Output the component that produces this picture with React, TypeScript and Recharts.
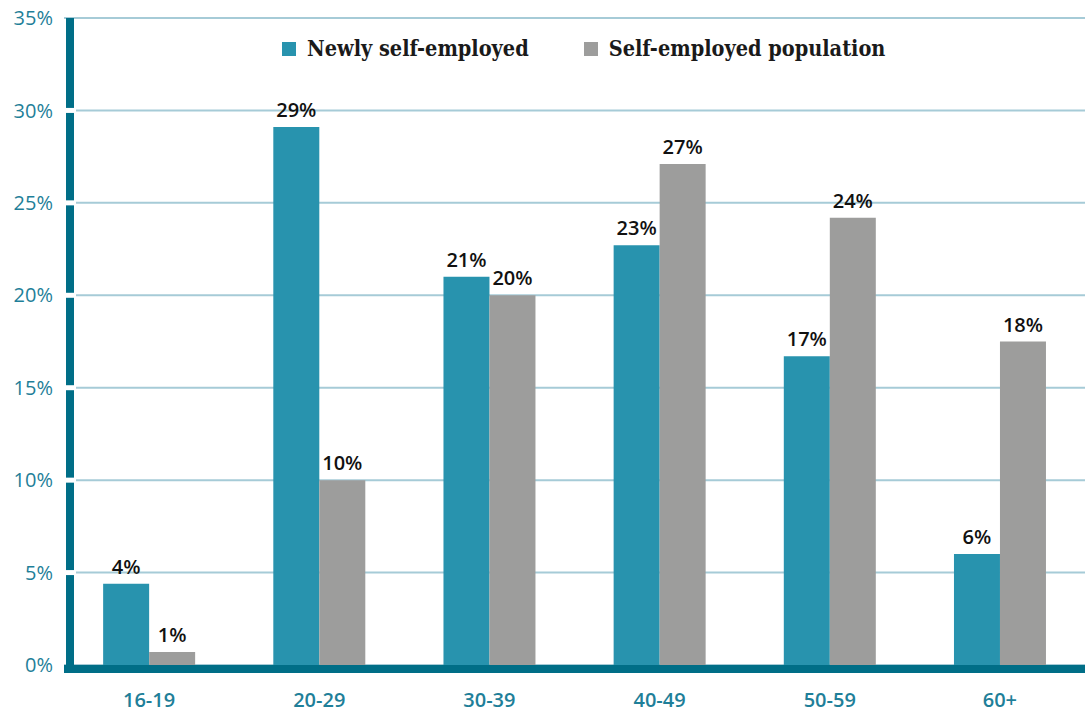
import { BarChart, Bar, XAxis, YAxis, CartesianGrid, Legend, LabelList } from "recharts"

const categories = ["16-19", "20-29", "30-39", "40-49", "50-59", "60+"]
const newlySelfEmployed = [4.4, 29.1, 21.0, 22.7, 16.7, 6.0]
const selfEmployedPopulation = [0.7, 10.0, 20.0, 27.1, 24.2, 17.5]
const yTicks = [0, 5, 10, 15, 20, 25, 30, 35]

const TEAL = "#2893ae"
const GREY = "#9d9d9c"
const AXIS = "#006e87"
const GRID = "#a6cbd7"
const TICK_TEXT = "#1f7f99"

const data = categories.map((age, i) => ({
  age,
  newly: newlySelfEmployed[i],
  population: selfEmployedPopulation[i],
}))

const sans = "'Open Sans', 'Noto Sans', sans-serif"

function YTick(props: any) {
  const { x, y, payload } = props
  const v = payload.value
  return (
    <g>
      {v > 0 && v < 35 && <rect x={x + 11} y={y - 2.5} width={12} height={5} fill="#fff" />}
      <text x={x} y={y} dy="0.355em" textAnchor="end" fill={TICK_TEXT} fontSize={20} fontFamily={sans}>
        {v}%
      </text>
    </g>
  )
}

function LegendContent() {
  const items = [
    { label: "Newly self-employed", color: TEAL },
    { label: "Self-employed population", color: GREY },
  ]
  return (
    <div style={{ display: "flex", alignItems: "center", gap: 55 }}>
      {items.map((it) => (
        <div key={it.label} style={{ display: "flex", alignItems: "center", gap: 11 }}>
          <span style={{ width: 14, height: 14, background: it.color, display: "inline-block" }} />
          <span
            style={{
              fontFamily: "'DejaVu Serif Condensed', 'DejaVu Serif', serif",
              fontStretch: "condensed",
              fontWeight: 700,
              fontSize: 21.5,
              lineHeight: "26px",
              color: "#1a1a1a",
            }}
          >
            {it.label}
          </span>
        </div>
      ))}
    </div>
  )
}

const pct = (v: any) => `${Math.round(Number(v))}%`

export default function App() {
  return (
    <div style={{ position: "absolute", left: 0, top: 0, background: "#fff" }}>
      <BarChart
        width={1085}
        height={713}
        data={data}
        margin={{ top: 18, right: 0, bottom: 0, left: 0 }}
        barCategoryGap="23%"
        barGap={0}
      >
        <CartesianGrid horizontal vertical={false} stroke={GRID} strokeWidth={2} />
        <XAxis
          dataKey="age"
          height={48}
          tickSize={0}
          tickMargin={28}
          axisLine={{ stroke: AXIS, strokeWidth: 8, transform: "translate(0,4)" }}
          tick={{ fill: TICK_TEXT, fontSize: 20, fontWeight: 600, fontFamily: sans }}
        />
        <YAxis
          width={64}
          domain={[0, 35]}
          ticks={yTicks}
          interval={0}
          tickSize={0}
          tickMargin={11}
          axisLine={{ stroke: AXIS, strokeWidth: 8, transform: "translate(6,0)" }}
          tick={<YTick />}
        />
        <Legend
          layout="horizontal"
          verticalAlign="middle"
          align="center"
          content={<LegendContent />}
          wrapperStyle={{ position: "absolute", left: 282, top: 36, width: "auto" }}
        />
        <Bar dataKey="newly" fill={TEAL} isAnimationActive={false}>
          <LabelList
            dataKey="newly"
            position="top"
            offset={10}
            formatter={pct}
            fill="#111"
            fontSize={20}
            fontWeight={600}
            fontFamily={sans}
          />
        </Bar>
        <Bar dataKey="population" fill={GREY} isAnimationActive={false}>
          <LabelList
            dataKey="population"
            position="top"
            offset={10}
            formatter={pct}
            fill="#111"
            fontSize={20}
            fontWeight={600}
            fontFamily={sans}
          />
        </Bar>
      </BarChart>
    </div>
  )
}
